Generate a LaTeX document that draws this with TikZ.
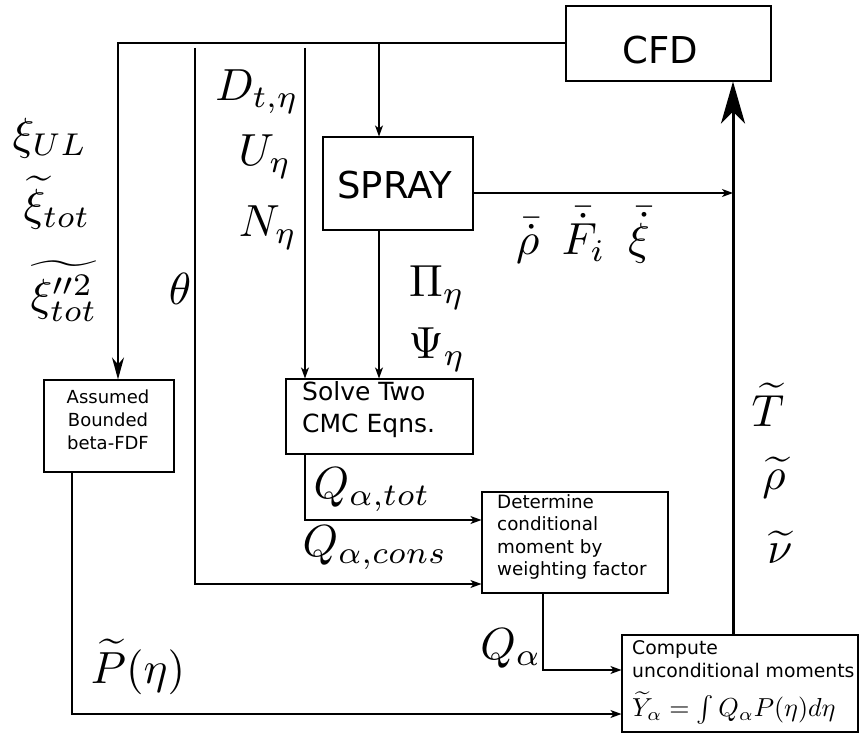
\RequirePackage{fix-cm}
\documentclass[tikz,border=0pt]{standalone}
\usepackage{amsmath}
\usepackage{graphicx}
\usepackage{fontspec}
\setsansfont{DejaVu Sans}
\usetikzlibrary{arrows.meta}
\newcommand{\bigmath}[1]{\scalebox{4.5}{\fontsize{10}{12}\selectfont$#1$}}
\begin{document}
\begin{tikzpicture}[x=1pt,y=-1pt,
  box/.style={draw, line width=1.1pt, rectangle, inner sep=0pt},
  conn/.style={line width=1.1pt, -{Stealth[length=11pt,width=8pt,inset=3pt]}},
  bigm/.style={inner sep=0pt},
  sfbig/.style={font=\sffamily\fontsize{37}{44}\selectfont, inner sep=0pt},
  sfsmall/.style={font=\sffamily\fontsize{18.3}{22.5}\selectfont, inner sep=0pt, align=left}
]
\useasboundingbox (0,0) rectangle (860,733);
% boxes
\node[box, minimum width=205pt, minimum height=75pt] (cfd) at (668.5,43.5) {};
\node[box, minimum width=150pt, minimum height=93pt] (spray) at (398,183.5) {};
\node[box, minimum width=187pt, minimum height=75pt] (solve) at (379.5,416.5) {};
\node[box, minimum width=130pt, minimum height=92pt] (assumed) at (109,426) {};
\node[box, minimum width=186pt, minimum height=101pt] (determine) at (575,542.5) {};
\node[box, minimum width=236pt, minimum height=97pt] (compute) at (740,683.5) {};
% box texts
\node[sfbig] (cfdt) at (660,50) {CFD};
\node[sfbig] (sprayt) at (395,185) {SPRAY};
\node[font=\sffamily\fontsize{25}{32}\selectfont, inner sep=0pt, align=left, anchor=west] (solvet) at (302,410) {Solve Two\\CMC Eqns.};
\node[font=\sffamily\fontsize{18}{23}\selectfont, inner sep=0pt, align=center] (assumedt) at (108,420) {Assumed\\Bounded\\beta-FDF};
\node[sfsmall, anchor=west] (determinet) at (497,537) {Determine\\conditional\\moment by\\weighting factor};
\node[font=\sffamily\fontsize{18.8}{22.5}\selectfont, inner sep=0pt, align=left, anchor=west] (computet) at (632,659) {Compute\\unconditional moments};
\node[inner sep=0pt, anchor=west] (computef) at (632,708) {\scalebox{2.6}{\fontsize{10}{12}\selectfont$\widetilde{Y}_\alpha=\int Q_\alpha P(\eta)d\eta$}};
% coordinates
\coordinate (tl) at (118,43);
\coordinate (sp) at (379,43);
\coordinate (th0) at (195,48);
\coordinate (th1) at (195,584);
\coordinate (d0) at (305,48);
\coordinate (tx) at (733,193);
\coordinate (q1) at (305,520);
\coordinate (p1) at (72,714);
\coordinate (q2) at (543,670);
% connectors
\draw[line width=1.6pt, -{Stealth[length=22pt,width=12pt,inset=7pt]}] (cfd.west |- tl) -- (tl) -- (assumed.north -| tl);
\draw[conn] (sp) -- (spray.north -| sp);
\draw[conn] (th0) -- (th1) -- (determine.west |- th1);
\draw[conn] (d0) -- (solve.north -| d0);
\draw[conn] (spray.south -| sp) -- (solve.north -| sp);
\draw[conn] (spray.east |- tx) -- (tx);
\draw[conn] (solve.south -| q1) |- (determine.west |- q1);
\draw[conn] (assumed.south -| p1) |- (compute.west |- p1);
\draw[conn] (determine.south -| q2) |- (compute.west |- q2);
\draw[line width=3pt, -{Stealth[length=42pt,width=24pt,inset=12pt]}] (compute.north -| tx) -- (cfd.south -| tx);
% math labels
\node[bigm] (xiul) at (50,138) {\bigmath{\xi_{UL}}};
\node[bigm] (xitot) at (57,203) {\bigmath{\widetilde{\xi}_{tot}}};
\node[bigm] (xivar) at (64,291) {\bigmath{\widetilde{\xi^{\prime\prime 2}_{tot}}}};
\node[bigm] (theta) at (180,289) {\bigmath{\theta}};
\node[bigm] (dt) at (257,92) {\bigmath{D_{t,\eta}}};
\node[bigm] (ueta) at (265,157) {\bigmath{U_\eta}};
\node[bigm] (neta) at (268,228) {\bigmath{N_\eta}};
\node[bigm] (pieta) at (437,288) {\bigmath{\Pi_\eta}};
\node[bigm] (psieta) at (437,350) {\bigmath{\Psi_\eta}};
\node[bigm] (src) at (583,235) {\bigmath{\bar{\dot{\rho}}\;\:\bar{\dot{F}}_i\;\:\bar{\dot{\xi}}}};
\node[bigm] (tt) at (768,405) {\bigmath{\widetilde{T}}};
\node[bigm] (rt) at (774,478) {\bigmath{\widetilde{\rho}}};
\node[bigm] (nt) at (780,547) {\bigmath{\widetilde{\nu}}};
\node[bigm] (qtot) at (372,490) {\bigmath{Q_{\alpha,tot}}};
\node[bigm] (qcons) at (375,548) {\bigmath{Q_{\alpha,cons}}};
\node[bigm] (qa) at (511,648) {\bigmath{Q_\alpha}};
\node[bigm] (peta) at (138,667) {\bigmath{\widetilde{P}(\eta)}};
\end{tikzpicture}
\end{document}
